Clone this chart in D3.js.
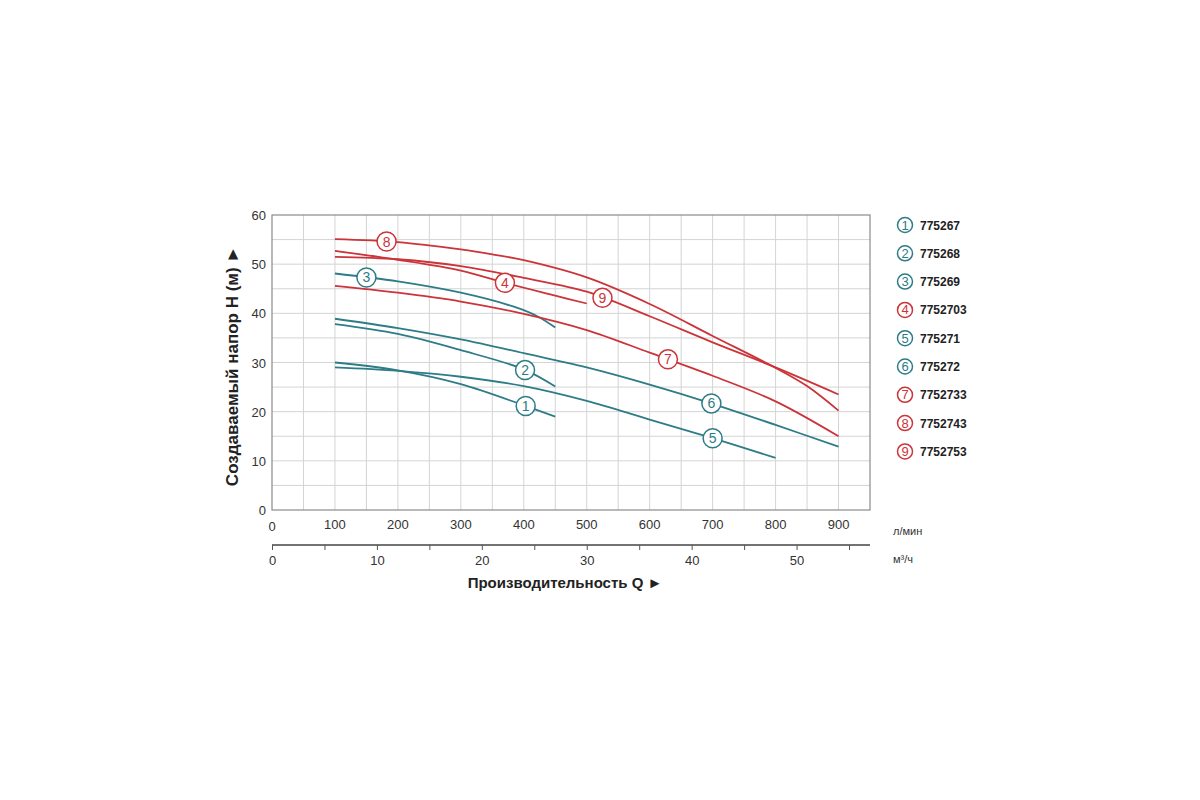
<!DOCTYPE html>
<html>
<head>
<meta charset="utf-8">
<script src="https://cdn.jsdelivr.net/npm/d3@7"></script>
<style>
  body { margin: 0; background: #fff; }
  text { font-family: "Liberation Sans", Arial, sans-serif; }
</style>
</head>
<body>
<div id="chart-area"></div>
<script>
// pump curves: [flow l/min, head m]
var curve1 = [[100, 30], [200, 28.4], [300, 25.6], [400, 21.3], [450, 19.0]];
var curve2 = [[100, 37.8], [200, 35.8], [300, 32.5], [400, 28.6], [450, 25.1]];
var curve3 = [[100, 48.1], [200, 46.5], [300, 44.2], [383, 41.4], [420, 39.5], [450, 37.1]];
var curve4 = [[100, 52.7], [200, 50.9], [300, 48.7], [370, 46.2], [450, 43.6], [500, 42.0]];
var curve5 = [[100, 29], [200, 28.3], [300, 27.1], [400, 25.2], [500, 22.2], [600, 18.4], [700, 14.6], [800, 10.6]];
var curve6 = [[100, 38.9], [200, 37.0], [300, 34.7], [400, 31.9], [500, 29.0], [600, 25.5], [700, 21.6], [800, 17.3], [900, 12.9]];
var curve7 = [[100, 45.6], [200, 44.2], [300, 42.4], [400, 39.9], [500, 36.6], [600, 32.0], [700, 27.3], [800, 22.1], [900, 15.0]];
var curve8 = [[100, 55.1], [200, 54.5], [300, 53.0], [350, 52.0], [400, 50.8], [500, 47.3], [600, 41.9], [700, 35.4], [800, 28.9], [850, 25.2], [900, 20.2]];
var curve9 = [[100, 51.5], [200, 51.0], [300, 49.6], [400, 47.2], [500, 44.4], [600, 39.4], [700, 34.1], [800, 29.0], [900, 23.5]];

var curveNames = ["775267", "775268", "775269", "7752703", "775271", "775272", "7752733", "7752743", "7752753"];
var curveKinds = ["teal", "teal", "teal", "red", "teal", "teal", "red", "red", "red"];
var labelFlows = [403, 402, 150, 370, 700, 698, 629, 182, 525];

var flowTicks = [100, 200, 300, 400, 500, 600, 700, 800, 900];
var headTicks = [0, 10, 20, 30, 40, 50, 60];
var m3hTicks = [0, 10, 20, 30, 40, 50];

var curves = [curve1, curve2, curve3, curve4, curve5, curve6, curve7, curve8, curve9];
var colors = { teal: "#2d7c87", red: "#cb3439" };

var svg = d3.select("#chart-area")
  .append("svg")
  .attr("width", 1200)
  .attr("height", 800);

var plotL = 272, plotT = 215, plotR = 870, plotB = 510;

var x = d3.scaleLinear().domain([0, 950]).range([plotL, plotR]);
var y = d3.scaleLinear().domain([0, 60]).range([plotB, plotT]);
var xm = d3.scaleLinear().domain([0, 950 * 0.06]).range([plotL, plotR]);

// grid
var grid = svg.append("g");
grid.selectAll(".vg")
  .data(d3.range(50, 950, 50))
  .enter()
  .append("line")
  .attr("x1", function(d) { return x(d); })
  .attr("x2", function(d) { return x(d); })
  .attr("y1", plotT)
  .attr("y2", plotB)
  .attr("stroke", "#d4d4d4")
  .attr("stroke-width", 1);

grid.selectAll(".hg")
  .data(d3.range(5, 60, 5))
  .enter()
  .append("line")
  .attr("x1", plotL)
  .attr("x2", plotR)
  .attr("y1", function(d) { return y(d); })
  .attr("y2", function(d) { return y(d); })
  .attr("stroke", "#d4d4d4")
  .attr("stroke-width", 1);

svg.append("rect")
  .attr("x", plotL)
  .attr("y", plotT)
  .attr("width", plotR - plotL)
  .attr("height", plotB - plotT)
  .attr("fill", "none")
  .attr("stroke", "#8a8a8a")
  .attr("stroke-width", 1.2);

// y tick labels
svg.selectAll(".ylab")
  .data(headTicks)
  .enter()
  .append("text")
  .attr("x", plotL - 6)
  .attr("y", function(d) { return y(d) + 5; })
  .attr("text-anchor", "end")
  .attr("font-size", 13)
  .attr("fill", "#333")
  .text(function(d) { return d; });

// x tick labels (l/min)
svg.selectAll(".xlab")
  .data(flowTicks)
  .enter()
  .append("text")
  .attr("x", function(d) { return x(d); })
  .attr("y", plotB + 19)
  .attr("text-anchor", "middle")
  .attr("font-size", 13)
  .attr("fill", "#333")
  .text(function(d) { return d; });

svg.append("text")
  .attr("x", x(0))
  .attr("y", plotB + 21)
  .attr("text-anchor", "middle")
  .attr("font-size", 13)
  .attr("fill", "#333")
  .text("0");

svg.append("text")
  .attr("x", 893)
  .attr("y", 535)
  .attr("font-size", 11)
  .attr("fill", "#333")
  .text("л/мин");

// second axis (m3/h)
var axis2y = 545;
var ax2 = svg.append("g")
  .attr("transform", "translate(0," + axis2y + ")")
  .call(d3.axisBottom(xm)
    .tickValues(d3.range(0, 57, 5))
    .tickSize(5)
    .tickFormat(function(d) { return m3hTicks.indexOf(d) >= 0 ? d : ""; }));

ax2.select(".domain")
  .attr("d", "M" + plotL + ",0H" + plotR)
  .attr("stroke", "#444")
  .attr("stroke-width", 1.5);
ax2.selectAll(".tick line").attr("stroke", "#555");
ax2.selectAll(".tick text")
  .attr("font-size", 13)
  .attr("fill", "#333")
  .attr("font-family", "Liberation Sans, Arial, sans-serif")
  .attr("dy", "0.95em");

svg.append("text")
  .attr("x", 893)
  .attr("y", 563)
  .attr("font-size", 11)
  .attr("fill", "#333")
  .text("м³/ч");

// axis titles
svg.append("text")
  .attr("x", 565)
  .attr("y", 588)
  .attr("text-anchor", "middle")
  .attr("font-size", 15)
  .attr("font-weight", "bold")
  .attr("fill", "#222")
  .text("Производительность Q ►");

svg.append("text")
  .attr("transform", "translate(238,366) rotate(-90)")
  .attr("text-anchor", "middle")
  .attr("font-size", 17)
  .attr("font-weight", "bold")
  .attr("fill", "#222")
  .text("Создаваемый напор H (м) ►");

// curves
var line = d3.line()
  .x(function(d) { return x(d[0]); })
  .y(function(d) { return y(d[1]); })
  .curve(d3.curveCatmullRom.alpha(0.5));

svg.append("g")
  .selectAll("path")
  .data(curves)
  .enter()
  .append("path")
  .attr("d", line)
  .attr("fill", "none")
  .attr("stroke", function(d, i) { return colors[curveKinds[i]]; })
  .attr("stroke-width", 1.8);

function headAt(pts, q) {
  var qs = pts.map(function(p) { return p[0]; });
  var hs = pts.map(function(p) { return p[1]; });
  return d3.scaleLinear().domain(qs).range(hs)(q);
}

// curve labels
var labels = svg.append("g")
  .selectAll("g")
  .data(curves)
  .enter()
  .append("g")
  .attr("transform", function(d, i) {
    return "translate(" + x(labelFlows[i]) + "," + y(headAt(d, labelFlows[i])) + ")";
  });

labels.append("circle")
  .attr("r", 9.5)
  .attr("fill", "#fff")
  .attr("stroke", function(d, i) { return colors[curveKinds[i]]; })
  .attr("stroke-width", 1.5);

labels.append("text")
  .attr("text-anchor", "middle")
  .attr("y", 5)
  .attr("font-size", 14)
  .attr("fill", function(d, i) { return colors[curveKinds[i]]; })
  .text(function(d, i) { return i + 1; });

// legend
var legend = svg.append("g")
  .selectAll("g")
  .data(curveNames)
  .enter()
  .append("g")
  .attr("transform", function(d, i) { return "translate(905," + (225 + i * 28.3) + ")"; });

legend.append("circle")
  .attr("r", 7.5)
  .attr("fill", "#fff")
  .attr("stroke", function(d, i) { return colors[curveKinds[i]]; })
  .attr("stroke-width", 1.5);

legend.append("text")
  .attr("text-anchor", "middle")
  .attr("y", 4.5)
  .attr("font-size", 13)
  .attr("fill", function(d, i) { return colors[curveKinds[i]]; })
  .text(function(d, i) { return i + 1; });

legend.append("text")
  .attr("x", 15)
  .attr("y", 4.5)
  .attr("font-size", 12)
  .attr("font-weight", "bold")
  .attr("fill", "#222")
  .text(function(d) { return d; });
</script>
</body>
</html>
